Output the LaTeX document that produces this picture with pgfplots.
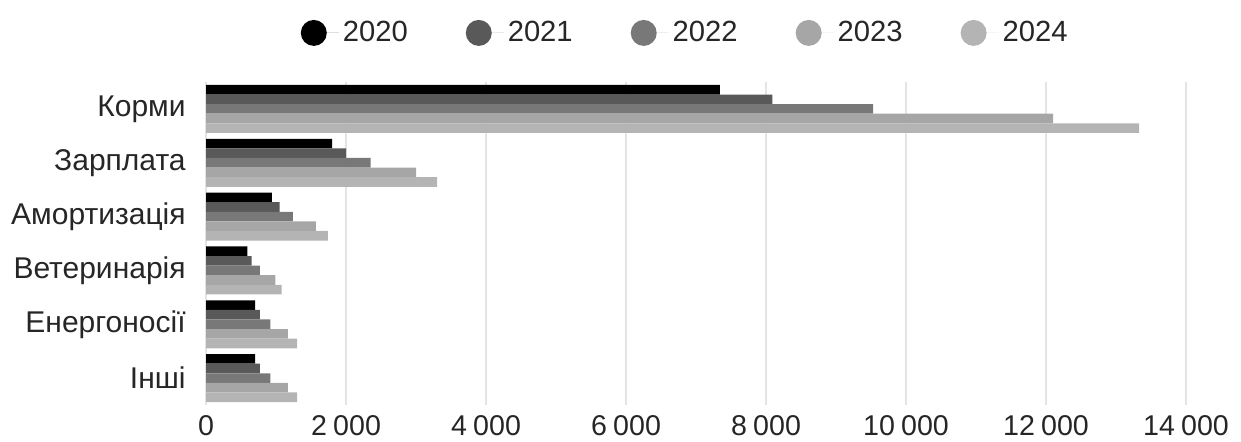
\documentclass[border=0pt]{standalone}
\usepackage{pgfplots}
\pgfplotsset{compat=1.18}
\usepackage{fontspec}
\setmainfont{Liberation Sans}

\definecolor{c2020}{HTML}{000000}
\definecolor{c2021}{HTML}{595959}
\definecolor{c2022}{HTML}{787878}
\definecolor{c2023}{HTML}{A6A6A6}
\definecolor{c2024}{HTML}{B4B4B4}
\definecolor{gridc}{HTML}{E4E4E4}

% Витрати за статтями (y: 5 = Корми ... 0 = Інші)
\pgfplotstableread{
y v2020 v2021 v2022 v2023 v2024
5 7340 8090 9530 12100 13330
4 1800 2000 2350 3000 3300
3 940 1050 1240 1570 1740
2 590 650 770 990 1080
1 700 770 920 1170 1300
0 700 770 920 1170 1300
}\costs

% circle marker in the legend, with room before the year
\pgfplotsset{
  dotlegend/.style={legend image code/.code={
    \fill[#1] (6.5pt,0pt) circle (6.5pt);
    \path (0pt,0pt) -- (19pt,0pt);}},
}

\begin{document}
\begin{tikzpicture}
\useasboundingbox (0,0) rectangle (620.5pt,220.5pt);
\begin{axis}[
  at={(103pt,18pt)}, anchor=south west,
  scale only axis,
  width=490pt, height=161.5pt,
  xbar, bar width=4.8pt,
  xmin=0, xmax=14000,
  ymin=-0.5, ymax=5.5,
  xtick={0,2000,...,14000},
  ytick={0,1,2,3,4,5},
  yticklabels={Інші,Енергоносії,Ветеринарія,Амортизація,Зарплата,Корми},
  scaled x ticks=false,
  /pgf/number format/assume math mode=true,
  /pgf/number format/1000 sep={\hspace{0.22em}},
  xmajorgrids=true,
  grid style={gridc, line width=0.6pt},
  axis line style={draw=none},
  major tick length=0pt,
  xticklabel style={font=\fontsize{14.3}{16}\selectfont, text=black!85,
    inner sep=0pt, yshift=-5pt},
  yticklabel style={font=\fontsize{15}{17}\selectfont, text=black!85,
    inner sep=0pt, xshift=-10pt},
  legend columns=5,
  legend style={draw=none, fill=none, at={(0.49,1.152)}, anchor=center,
    font=\fontsize{14.6}{16}\selectfont, text=black!85,
    /tikz/every even column/.append style={column sep=27pt}},
  legend cell align=left,
]
\addplot[fill=c2020, draw=none, bar shift=9.6pt, dotlegend=c2020]
  table[x=v2020, y=y]{\costs};
\addplot[fill=c2021, draw=none, bar shift=4.8pt, dotlegend=c2021]
  table[x=v2021, y=y]{\costs};
\addplot[fill=c2022, draw=none, bar shift=0pt, dotlegend=c2022]
  table[x=v2022, y=y]{\costs};
\addplot[fill=c2023, draw=none, bar shift=-4.8pt, dotlegend=c2023]
  table[x=v2023, y=y]{\costs};
\addplot[fill=c2024, draw=none, bar shift=-9.6pt, dotlegend=c2024]
  table[x=v2024, y=y]{\costs};
\legend{2020,2021,2022,2023,2024}
\end{axis}
\end{tikzpicture}
\end{document}
